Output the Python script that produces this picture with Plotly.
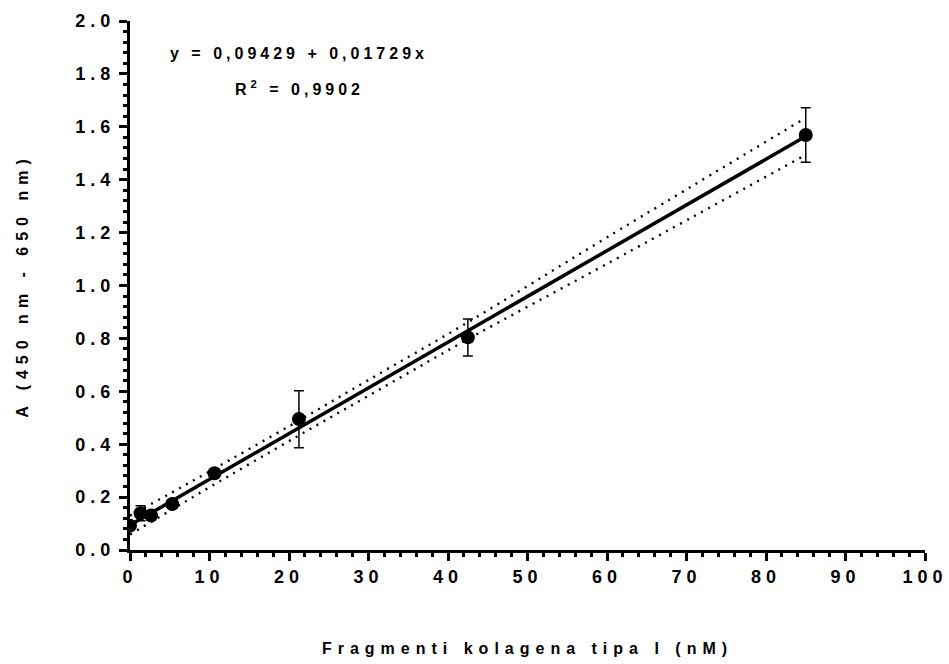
import plotly.graph_objects as go

# ---- data ----
concentration = [0, 1.328, 2.656, 5.3125, 10.625, 21.25, 42.5, 85]
absorbance = [0.092, 0.139, 0.130, 0.174, 0.290, 0.495, 0.804, 1.569]
err_plus = [0.008, 0.028, 0.008, 0.008, 0.008, 0.107, 0.069, 0.103]
err_minus = [0.008, 0.028, 0.008, 0.008, 0.008, 0.108, 0.071, 0.103]

intercept = 0.09429
slope = 0.01729
fit_x = [0, 85]

band_x = [0, 5, 10, 21, 30, 42.5, 60, 85]
band_upper = [0.130, 0.213, 0.297, 0.485, 0.643, 0.861, 1.182, 1.634]
band_lower = [0.059, 0.148, 0.237, 0.429, 0.583, 0.797, 1.082, 1.494]

x_ticks = [0, 10, 20, 30, 40, 50, 60, 70, 80, 90, 100]
y_ticks = [0.0, 0.2, 0.4, 0.6, 0.8, 1.0, 1.2, 1.4, 1.6, 1.8, 2.0]
y_tick_labels = [f"{v:.1f}" for v in y_ticks]

eq_text = "y = 0,09429 + 0,01729x"
r2_text = "R<sup>2</sup> = 0,9902"
x_title = "Fragmenti kolagena tipa I (nM)"
y_title = "A (450 nm - 650 nm)"

FONT = "Liberation Sans, Arial, sans-serif"

fit_y = [intercept + slope * v for v in fit_x]

fig = go.Figure()

fig.add_trace(go.Scatter(
    x=band_x, y=band_upper, mode="lines",
    line=dict(color="black", width=2.4, dash="2px,6px", shape="spline"),
    hoverinfo="skip", showlegend=False))
fig.add_trace(go.Scatter(
    x=band_x, y=band_lower, mode="lines",
    line=dict(color="black", width=2.4, dash="2px,6px", shape="spline"),
    hoverinfo="skip", showlegend=False))
fig.add_trace(go.Scatter(
    x=fit_x, y=fit_y, mode="lines",
    line=dict(color="black", width=3.5),
    showlegend=False))
fig.add_trace(go.Scatter(
    x=concentration, y=absorbance, mode="markers",
    marker=dict(color="black", size=14),
    error_y=dict(type="data", array=err_plus, arrayminus=err_minus,
                 color="black", thickness=1.5, width=5),
    showlegend=False))

fig.add_annotation(x=0.213, y=0.9395, xref="paper", yref="paper",
                   xanchor="center", yanchor="middle",
                   text=eq_text, showarrow=False,
                   font=dict(family=FONT, size=16, weight="bold", color="black"))
fig.add_annotation(x=0.213, y=0.8733, xref="paper", yref="paper",
                   xanchor="center", yanchor="middle",
                   text=r2_text, showarrow=False,
                   font=dict(family=FONT, size=16, weight="bold", color="black"))

axis_common = dict(
    showline=True, linewidth=3, linecolor="black", mirror=False,
    showgrid=False, zeroline=False,
    ticks="outside", ticklen=8, tickwidth=2.5, tickcolor="black",
    tickfont=dict(family=FONT, size=18, weight="bold", color="black"),
)

fig.update_xaxes(
    range=[0, 100], tickmode="array", tickvals=x_ticks,
    ticktext=[str(v) for v in x_ticks],
    minor=dict(dtick=2, ticks="outside", ticklen=4, tickwidth=2.5, tickcolor="black"),
    title=dict(text=x_title, standoff=58,
               font=dict(family=FONT, size=16, weight="bold", color="black")),
    **axis_common)
fig.update_yaxes(
    range=[0, 2], tickmode="array", tickvals=y_ticks, ticktext=y_tick_labels,
    minor=dict(dtick=0.04, ticks="outside", ticklen=4, tickwidth=2.5, tickcolor="black"),
    title=dict(text=y_title, standoff=58,
               font=dict(family=FONT, size=16, weight="bold", color="black")),
    **axis_common)

fig.update_layout(
    width=949, height=664,
    margin=dict(l=130, r=24, t=21, b=114, autoexpand=False),
    plot_bgcolor="white", paper_bgcolor="white",
    showlegend=False,
)

js = """
var s=document.createElement('style');
s.textContent='.xtick text,.ytick text{letter-spacing:5px}.g-xtitle text,.g-ytitle text{letter-spacing:6px}.annotation-text{letter-spacing:4px}';
document.head.appendChild(s);
"""

fig.write_html("out.html", post_script=js)
